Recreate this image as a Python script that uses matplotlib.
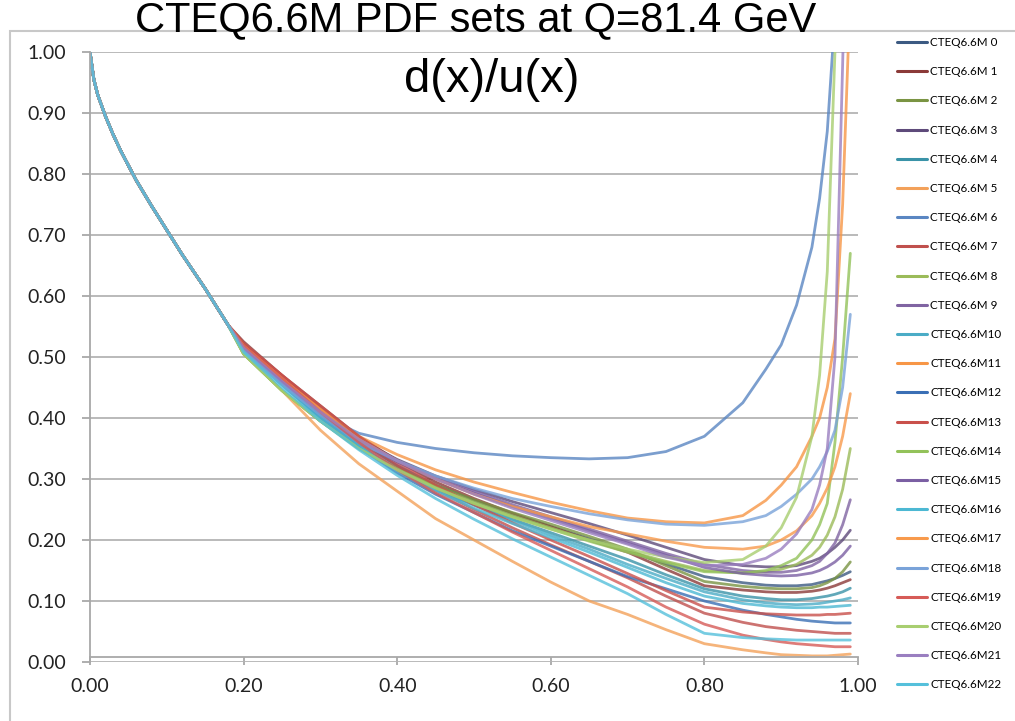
import matplotlib
matplotlib.use("Agg")
import matplotlib.pyplot as plt
from matplotlib.patches import Rectangle

plt.rcParams["font.family"] = ["Lato", "DejaVu Sans"]

# x grid: shared small-x part (all sets coincide there) and per-set part
x_head = [0.0, 0.005, 0.01, 0.02, 0.03, 0.04, 0.06, 0.08, 0.10, 0.12, 0.15, 0.18]
ratio_head = [1.0, 0.955, 0.93, 0.895, 0.865, 0.838, 0.79, 0.748, 0.708, 0.668, 0.612, 0.552]
x_tail = [0.20, 0.25, 0.30, 0.35, 0.40, 0.45, 0.50, 0.55, 0.60, 0.65, 0.70, 0.75,
          0.80, 0.85, 0.88, 0.90, 0.92, 0.94, 0.95, 0.96, 0.97, 0.98, 0.99]

m0 = [0.515, 0.46, 0.405, 0.36, 0.322, 0.29, 0.265, 0.242, 0.222, 0.202, 0.182, 0.161,
      0.14, 0.13, 0.126, 0.125, 0.125, 0.127, 0.13, 0.133, 0.137, 0.142, 0.148]
m1 = [0.525, 0.47, 0.42, 0.37, 0.33, 0.295, 0.268, 0.244, 0.222, 0.2, 0.18, 0.152,
      0.125, 0.118, 0.115, 0.114, 0.114, 0.116, 0.118, 0.121, 0.125, 0.13, 0.135]
m2 = [0.505, 0.445, 0.395, 0.352, 0.318, 0.29, 0.266, 0.245, 0.226, 0.206, 0.185, 0.158,
      0.132, 0.124, 0.121, 0.12, 0.12, 0.122, 0.125, 0.13, 0.137, 0.148, 0.164]
m3 = [0.515, 0.46, 0.41, 0.365, 0.332, 0.305, 0.283, 0.263, 0.245, 0.227, 0.208, 0.188,
      0.168, 0.158, 0.156, 0.156, 0.158, 0.165, 0.17, 0.178, 0.188, 0.2, 0.216]
m4 = [0.51, 0.455, 0.40, 0.355, 0.315, 0.282, 0.258, 0.234, 0.212, 0.19, 0.168, 0.143,
      0.12, 0.108, 0.104, 0.102, 0.102, 0.104, 0.106, 0.108, 0.111, 0.115, 0.121]
m5 = [0.508, 0.445, 0.38, 0.325, 0.28, 0.235, 0.2, 0.165, 0.131, 0.10, 0.078, 0.053,
      0.03, 0.02, 0.015, 0.012, 0.011, 0.01, 0.01, 0.01, 0.011, 0.012, 0.013]
m6 = [0.515, 0.455, 0.405, 0.375, 0.36, 0.35, 0.343, 0.338, 0.335, 0.333, 0.335, 0.345,
      0.37, 0.425, 0.48, 0.52, 0.585, 0.68, 0.76, 0.87, 1.06, 1.3, 1.6]
m7 = [0.522, 0.47, 0.415, 0.365, 0.322, 0.283, 0.25, 0.22, 0.192, 0.165, 0.138, 0.108,
      0.08, 0.065, 0.058, 0.055, 0.052, 0.05, 0.049, 0.048, 0.047, 0.047, 0.047]
m8 = [0.505, 0.445, 0.395, 0.35, 0.316, 0.287, 0.262, 0.24, 0.22, 0.2, 0.182, 0.165,
      0.15, 0.146, 0.148, 0.152, 0.16, 0.175, 0.188, 0.208, 0.238, 0.283, 0.35]
m9 = [0.515, 0.46, 0.41, 0.365, 0.33, 0.303, 0.28, 0.258, 0.238, 0.218, 0.198, 0.178,
      0.16, 0.15, 0.147, 0.147, 0.15, 0.158, 0.165, 0.178, 0.195, 0.225, 0.266]
m10 = [0.51, 0.455, 0.40, 0.355, 0.315, 0.283, 0.257, 0.232, 0.208, 0.185, 0.16, 0.137,
       0.115, 0.102, 0.097, 0.095, 0.094, 0.095, 0.096, 0.098, 0.10, 0.102, 0.105]
m11 = [0.518, 0.465, 0.415, 0.37, 0.34, 0.315, 0.295, 0.278, 0.262, 0.248, 0.236, 0.23,
       0.228, 0.24, 0.265, 0.29, 0.32, 0.37, 0.40, 0.45, 0.53, 0.75, 1.1]
m12 = [0.51, 0.455, 0.40, 0.352, 0.31, 0.275, 0.245, 0.215, 0.19, 0.165, 0.14, 0.12,
       0.10, 0.085, 0.078, 0.074, 0.07, 0.067, 0.066, 0.065, 0.064, 0.064, 0.064]
m13 = [0.522, 0.47, 0.42, 0.37, 0.327, 0.29, 0.258, 0.228, 0.2, 0.173, 0.145, 0.117,
       0.09, 0.082, 0.079, 0.078, 0.077, 0.077, 0.077, 0.078, 0.078, 0.079, 0.08]
m14 = [0.505, 0.445, 0.395, 0.35, 0.315, 0.286, 0.26, 0.238, 0.218, 0.198, 0.18, 0.163,
       0.148, 0.146, 0.15, 0.158, 0.17, 0.2, 0.225, 0.26, 0.36, 0.50, 0.67]
m15 = [0.515, 0.46, 0.408, 0.362, 0.328, 0.30, 0.277, 0.255, 0.235, 0.215, 0.195, 0.175,
       0.155, 0.145, 0.142, 0.141, 0.142, 0.146, 0.15, 0.156, 0.164, 0.175, 0.19]
m16 = [0.51, 0.455, 0.40, 0.353, 0.313, 0.28, 0.252, 0.227, 0.204, 0.18, 0.155, 0.13,
       0.108, 0.096, 0.092, 0.09, 0.089, 0.089, 0.09, 0.09, 0.091, 0.092, 0.093]
m17 = [0.518, 0.465, 0.41, 0.365, 0.33, 0.30, 0.275, 0.255, 0.238, 0.222, 0.21, 0.198,
       0.188, 0.185, 0.19, 0.20, 0.215, 0.24, 0.26, 0.285, 0.32, 0.37, 0.44]
m18 = [0.51, 0.455, 0.405, 0.36, 0.33, 0.305, 0.285, 0.268, 0.255, 0.243, 0.233, 0.226,
       0.224, 0.23, 0.24, 0.255, 0.275, 0.30, 0.32, 0.345, 0.38, 0.45, 0.57]
m19 = [0.518, 0.465, 0.41, 0.36, 0.315, 0.277, 0.245, 0.213, 0.183, 0.153, 0.123, 0.09,
       0.062, 0.044, 0.037, 0.033, 0.03, 0.028, 0.027, 0.026, 0.025, 0.025, 0.025]
m20 = [0.505, 0.445, 0.395, 0.35, 0.315, 0.285, 0.26, 0.238, 0.218, 0.20, 0.185, 0.172,
       0.163, 0.168, 0.19, 0.22, 0.27, 0.37, 0.47, 0.64, 1.0, 1.4, 1.8]
m21 = [0.515, 0.46, 0.41, 0.365, 0.33, 0.30, 0.275, 0.252, 0.232, 0.212, 0.193, 0.172,
       0.158, 0.16, 0.17, 0.185, 0.21, 0.25, 0.29, 0.35, 0.5, 0.98, 1.5]
m22 = [0.508, 0.45, 0.395, 0.348, 0.306, 0.268, 0.234, 0.202, 0.172, 0.142, 0.112, 0.078,
       0.047, 0.04, 0.038, 0.037, 0.036, 0.036, 0.036, 0.036, 0.036, 0.036, 0.036]

members = [m0, m1, m2, m3, m4, m5, m6, m7, m8, m9, m10, m11, m12, m13, m14, m15,
           m16, m17, m18, m19, m20, m21, m22]
labels = ["CTEQ6.6M%2d" % i for i in range(23)]
colors = ["#3C5A82", "#8B3A38", "#7A9443", "#5E4A7A", "#3A93A8", "#F3A15A",
          "#5A86C2", "#C0504D", "#9BBB59", "#8064A2", "#4BACC6", "#F79646",
          "#3A6FB5", "#C9504B", "#93C25A", "#7B5FA3", "#4CB8D3", "#F89A4C",
          "#7AA3D9", "#D65B57", "#A8CE70", "#9A7FC0", "#55C0DB"]

fig = plt.figure(figsize=(10.15, 7.21), dpi=100)
ax = fig.add_axes([90 / 1015, 1 - 662 / 721, 768 / 1015, 610 / 721])

# outer chart frame
fig.patches.append(Rectangle((10 / 1015, -0.05), 1.2, 1 - 31 / 721 + 0.05,
                             transform=fig.transFigure, fill=False,
                             edgecolor="#C8C8C8", lw=1.5, zorder=0))

for i, m in enumerate(members):
    ax.plot(x_head + x_tail, ratio_head + m, color=colors[i], lw=2.0,
            alpha=0.8, label=labels[i], solid_capstyle="round",
            solid_joinstyle="round")

# axis styling (spine position first: it resets the tick objects)
for s in ["top", "right"]:
    ax.spines[s].set_visible(False)
ax.spines["bottom"].set_position(("data", 0.008))
for s in ["left", "bottom"]:
    ax.spines[s].set_color("#A8A8A8")
    ax.spines[s].set_linewidth(1.3)

ticks_x = [0, 0.2, 0.4, 0.6, 0.8, 1.0]
ticks_y = [i / 10 for i in range(11)]
ax.set_xlim(0, 1)
ax.set_ylim(0, 1)
ax.set_xticks(ticks_x)
ax.set_yticks(ticks_y)
ax.set_xticklabels(["%.2f" % v for v in ticks_x])
ax.set_yticklabels(["%.2f" % v for v in ticks_y])
ax.grid(axis="y", color="#B4B4B4", lw=1.3)
ax.set_axisbelow(True)
ax.tick_params(axis="both", color="#A8A8A8", width=1.3, length=6,
               labelcolor="#222222", labelsize=14)
ax.tick_params(axis="x", pad=9)
ax.tick_params(axis="y", pad=11)

fig.text(476 / 1015, 1 - 31 / 721, "CTEQ6.6M PDF sets at Q=81.4 GeV",
         ha="center", va="baseline", fontsize=30, fontfamily="Liberation Sans")
fig.text(492 / 1015, 1 - 80 / 721, "d(x)/u(x)",
         ha="center", va="center", fontsize=34, fontfamily="Liberation Sans")

leg = fig.legend(loc="upper left", bbox_to_anchor=(897 / 1015, 1 - 37 / 721),
                 frameon=False, prop={"family": "Lato", "size": 8.4},
                 handlelength=2.6, handletextpad=0.25, labelspacing=1.56,
                 borderaxespad=0, borderpad=0)
for ln in leg.get_lines():
    ln.set_alpha(1.0)
    ln.set_linewidth(2.2)

fig.savefig("out.png", dpi=100)
